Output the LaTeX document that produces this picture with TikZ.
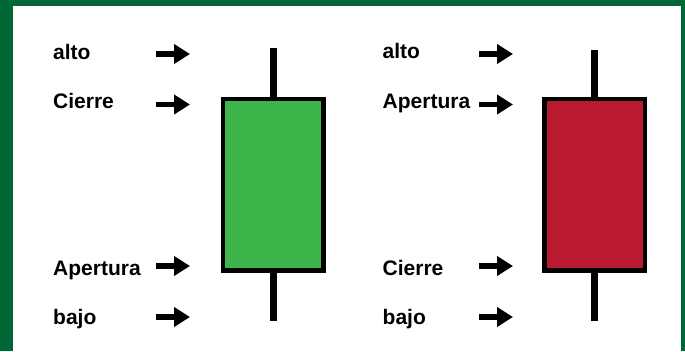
\documentclass[tikz,border=0pt]{standalone}
\usepackage{fontspec}
\setmainfont{Liberation Sans}
\usetikzlibrary{positioning,arrows.meta}
\definecolor{frame}{RGB}{0,104,55}
\definecolor{bull}{RGB}{61,181,74}
\definecolor{bear}{RGB}{186,26,47}
\tikzset{
  % Specifications for style of nodes:
  base/.style = {
    rectangle,
    draw=black,
    line width=4.5pt
  },
  candle/.style = {
    base,
    minimum width=100.5pt,
    minimum height=171.5pt,
    inner sep=0pt
  },
  tag/.style = {
    anchor=base west,
    inner sep=0pt,
    font=\fontsize{21}{21}\selectfont\bfseries
  },
  pointer/.style = {
    line width=5.5pt,
    -{Triangle[length=16pt,width=19pt]}
  },
  wick/.style = {
    line width=7.5pt
  },
}

\begin{document}
\begin{tikzpicture}[x=1pt,y=-1pt]
    \useasboundingbox (0,0) rectangle (685,351);
    \fill[frame] (0,0) rectangle (685,351);
    \fill[white] (13,6) rectangle (681,351);
    % Specification of nodes (position, etc.)
    \node[candle, fill=bull] (green) at (273.3,184.8) {};
    \node[candle, fill=bear] (red)   at (594.7,184.8) {};
    \coordinate (greenhi) at (273.3,48);
    \coordinate (greenlo) at (273.3,320.5);
    \coordinate (redhi)   at (594.7,49.5);
    \coordinate (redlo)   at (594.7,320.5);
    \draw[wick] (green.north) -- (greenhi);
    \draw[wick] (green.south) -- (greenlo);
    \draw[wick] (red.north)   -- (redhi);
    \draw[wick] (red.south)   -- (redlo);
    % left labels
    \node[tag] (lalto)  at (53,59)    {alto};
    \node[tag] (lclose) at (53,108.5) {Cierre};
    \node[tag] (lopen)  at (53,275)   {Apertura};
    \node[tag] (lbajo)  at (53,324)   {bajo};
    % right labels
    \node[tag] (ralto)  at (382.5,58.5)  {alto};
    \node[tag] (ropen)  at (382.5,108.5) {Apertura};
    \node[tag] (rclose) at (382.5,275)   {Cierre};
    \node[tag] (rbajo)  at (382.5,324)   {bajo};
    % arrows
    \foreach \n/\y in {a/54,b/104.5,c/266,d/317} {
      \coordinate (ls\n) at (156,\y);
      \coordinate (le\n) at (190,\y);
      \coordinate (rs\n) at (479,\y);
      \coordinate (re\n) at (513,\y);
      \draw[pointer] (ls\n) -- (le\n);
      \draw[pointer] (rs\n) -- (re\n);
    }
  \end{tikzpicture}
\end{document}
